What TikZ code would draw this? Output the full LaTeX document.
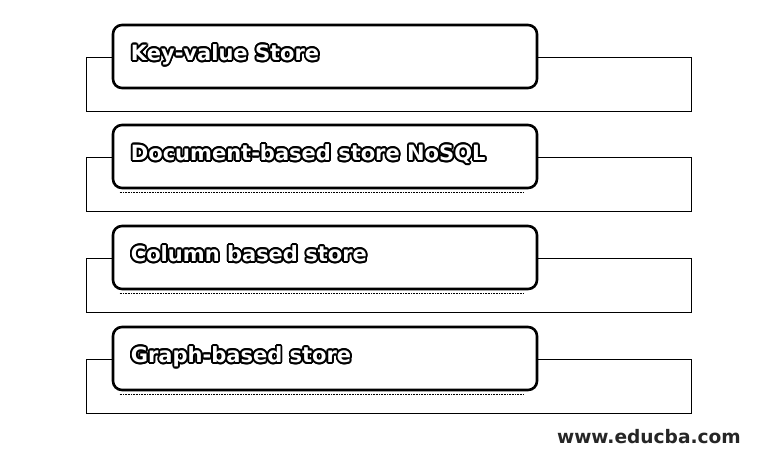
\documentclass[tikz,border=0pt]{standalone}
\usepackage{fontspec}
\setmainfont{DejaVu Sans}
\usepackage{contour}
\contourlength{1.8pt}
\usetikzlibrary{positioning,calc}

\tikzset{
  storebox/.style={draw, line width=2.6pt, rounded corners=9pt, fill=white,
    minimum width=424pt, minimum height=63pt, inner sep=0pt},
  backframe/.style={draw, line width=0.8pt},
  storetext/.style={anchor=base west, inner sep=0pt,
    font=\bfseries\fontsize{21}{25}\selectfont},
  shadowline/.style={densely dotted, line width=0.6pt, black},
}

\begin{document}
\begin{tikzpicture}[x=1pt,y=-1pt]
    \useasboundingbox (0,0) rectangle (767,459);
    % the four kinds of store
    \foreach \i/\ytop/\storename in {1/25/Key-value Store,
        2/125/Document-based store NoSQL,
        3/226/Column based store,
        4/327/Graph-based store} {
        % frame behind the box
        \draw[backframe] (86,\ytop+32) rectangle (691,\ytop+86);
        \node[storebox] (box\i) at (325,\ytop+31.5) {};
        \node[storetext] (txt\i) at ([xshift=19pt,yshift=-4pt]box\i.west)
            {\contour{black}{\textcolor{white}{\storename}}};
    }
    % dotted shadow under the lower boxes
    \foreach \i in {2,3,4}
        \draw[shadowline] ([xshift=8pt,yshift=-3pt]box\i.south west) -- ([xshift=-14pt,yshift=-3pt]box\i.south east);
    % watermark
    \node[anchor=base east, inner sep=0pt, text=black!85,
        font=\bfseries\fontsize{18.6}{21}\selectfont] (mark) at (741,443) {www.educba.com};
\end{tikzpicture}
\end{document}
